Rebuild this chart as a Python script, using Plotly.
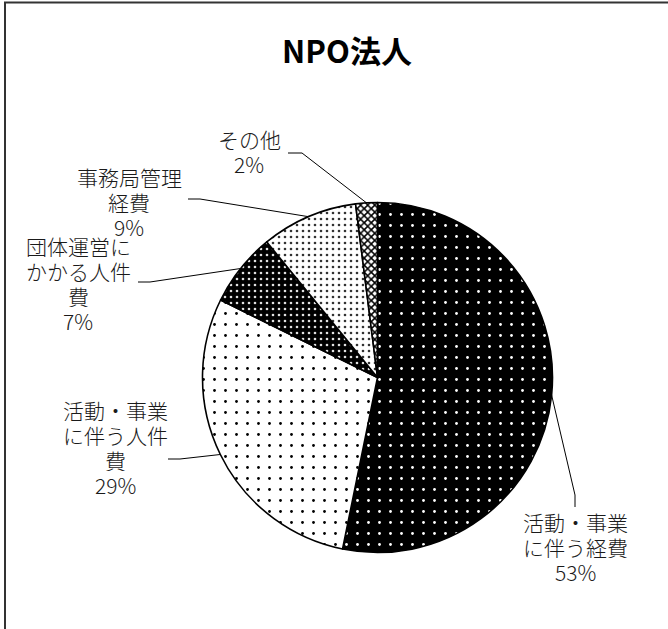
import math
import plotly.graph_objects as go

W, H = 668, 629

# ---- data ----
categories = ["活動・事業に伴う経費", "活動・事業に伴う人件費", "団体運営にかかる人件費", "事務局管理経費", "その他"]
values = [53.2, 29.1, 6.8, 8.9, 2.0]
display_lines = [["活動・事業", "に伴う経費"], ["活動・事業", "に伴う人件", "費"],
                 ["団体運営に", "かかる人件", "費"], ["事務局管理", "経費"], ["その他"]]
title_text = "NPO法人"

# ---- styles ----
pat_bg = ["#000000", "#ffffff", "#000000", "#ffffff", "#ffffff"]
pat_fg = ["#ffffff", "#000000", "#e0e0e0", "#333333", "#000000"]
pat_shape = [".", ".", ".", ".", "x"]
pat_size = [11, 11, 6, 6, 5]
pat_solid = [0.05, 0.05, 0.15, 0.15, 0.5]

# pie geometry (pixels)
cx, cy, r = 377.5, 377.5, 175
LINE_H = 25

# label layout (pixels): label block centre, leader-line points from label side
label_pos = [(575, 547), (115, 447), (78, 283), (129, 202), (249, 152)]
leader_pts = [
    [(575, 507), (575, 495)],
    [(168, 459), (180, 459)],
    [(138, 282), (150, 282)],
    [(188, 199), (200, 199)],
    [(288, 153), (302, 153)],
]

def px(x):
    return x / W

def py(y):
    return 1 - y / H

fig = go.Figure()
fig.add_trace(go.Pie(
    labels=categories,
    values=values,
    sort=False,
    direction="clockwise",
    rotation=0,
    textinfo="none",
    hoverinfo="skip",
    showlegend=False,
    domain=dict(x=[px(cx - r), px(cx + r)], y=[py(cy + r), py(cy - r)]),
    marker=dict(
        colors=pat_bg,
        line=dict(color="#000000", width=1.6),
        pattern=dict(shape=pat_shape, fgcolor=pat_fg, bgcolor=pat_bg,
                     size=pat_size, solidity=pat_solid, fillmode="replace"),
    ),
))

total = sum(values)
annotations = []
shapes = []
cum = 0.0
for i, v in enumerate(values):
    mid = (cum + v / 2) / total * 2 * math.pi
    cum += v
    ex = cx + r * math.sin(mid)
    ey = cy - r * math.cos(mid)
    pct = round(v / total * 100)
    lx, ly = label_pos[i]
    lines = display_lines[i] + [f"{pct}%"]
    n = len(lines)
    for k, t in enumerate(lines):
        yk = ly + (k - (n - 1) / 2) * LINE_H
        annotations.append(dict(
            x=px(lx), y=py(yk), xref="paper", yref="paper",
            text=t, showarrow=False, height=22, borderpad=0,
            xanchor="center", yanchor="middle", align="center", valign="middle",
            font=dict(family="Noto Sans CJK JP", size=21, color="#1a1a1a", weight=300),
        ))
    pts = leader_pts[i] + [(ex, ey)]
    path = "M " + " L ".join(f"{px(a)},{py(b)}" for a, b in pts)
    shapes.append(dict(type="path", xref="paper", yref="paper", path=path,
                       line=dict(color="#000000", width=1)))

# outer border (cropped at right/bottom as in reference)
shapes.append(dict(type="rect", xref="paper", yref="paper",
                   x0=px(5), x1=1.05, y0=-0.05, y1=py(2.5),
                   line=dict(color="#333333", width=2)))

fig.update_layout(
    width=W, height=H,
    margin=dict(l=0, r=0, t=0, b=0),
    paper_bgcolor="#ffffff",
    plot_bgcolor="#ffffff",
    title=dict(text=f"<b>{title_text}</b>", x=px(347), y=py(52),
               xanchor="center", yanchor="middle",
               font=dict(family="Noto Sans CJK JP", size=31, color="#000000")),
    annotations=annotations,
    shapes=shapes,
)

fig.write_html("out.html", config={"displayModeBar": False},
               post_script="document.body.style.margin='0';document.body.style.padding='0';")
